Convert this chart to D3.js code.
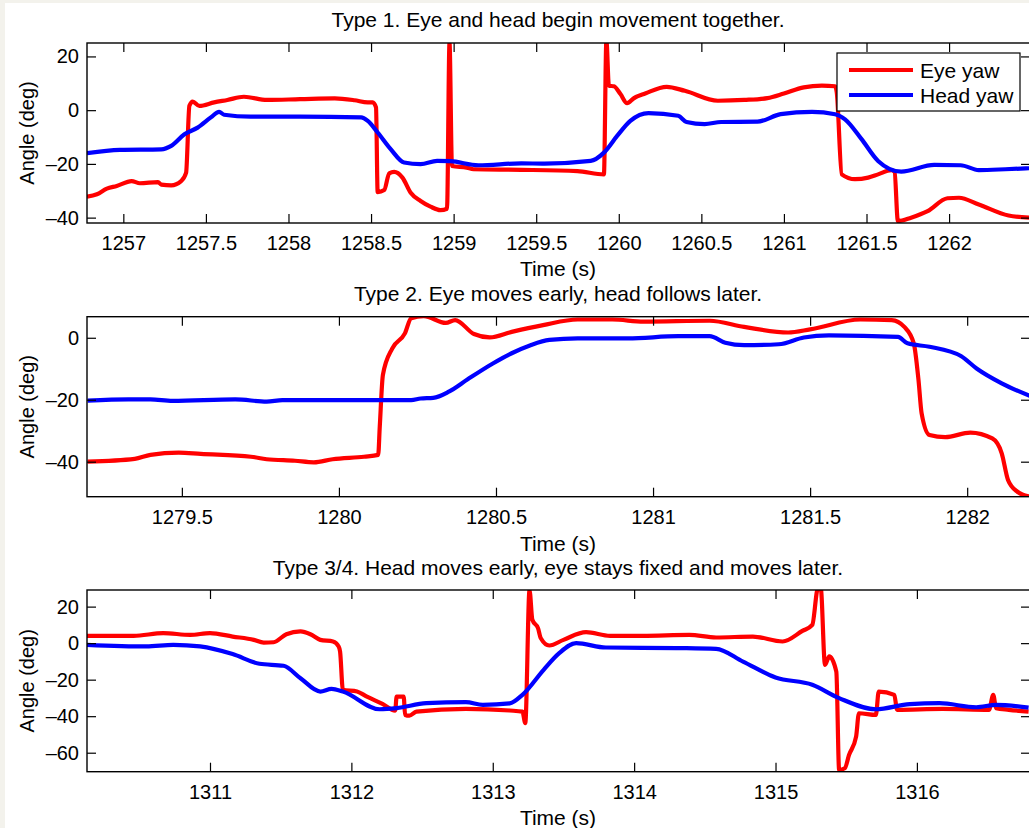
<!DOCTYPE html>
<html>
<head>
<meta charset="utf-8">
<script src="https://cdn.jsdelivr.net/npm/d3@7"></script>
<style>
body { margin: 0; background: #fff; }
svg text { font-family: "Liberation Sans", Arial, Helvetica, sans-serif; fill: #000; }
</style>
</head>
<body>
<div id="chartDiv"></div>
<script>
// panel titles
let titles = [
  "Type 1. Eye and head begin movement together.",
  "Type 2. Eye moves early, head follows later.",
  "Type 3/4. Head moves early, eye stays fixed and moves later."
];
let seriesNames = ["Eye yaw", "Head yaw"];

// ticks
let xTicks1 = [1257, 1257.5, 1258, 1258.5, 1259, 1259.5, 1260, 1260.5, 1261, 1261.5, 1262];
let yTicks1 = [-40, -20, 0, 20];
let xTicks2 = [1279.5, 1280, 1280.5, 1281, 1281.5, 1282];
let yTicks2 = [-40, -20, 0];
let xTicks3 = [1311, 1312, 1313, 1314, 1315, 1316];
let yTicks3 = [-60, -40, -20, 0, 20];

// data [time, angle]
let eye1 = [[1256.78,-32.2],[1256.84,-31.3],[1256.90,-29.2],[1256.96,-28.2],[1257.05,-26.4],[1257.10,-27.2],
  [1257.21,-26.8],[1257.23,-27.7],[1257.29,-28],[1257.35,-26.4],[1257.38,-23.3],[1257.40,1.6],[1257.42,3.2],
  [1257.46,1.6],[1257.55,2.9],[1257.63,3.8],[1257.73,5.0],[1257.87,3.8],[1258.07,4.1],[1258.28,4.4],[1258.40,3.7],
  [1258.48,2.9],[1258.51,2.9],[1258.53,1.0],[1258.54,-30.5],[1258.58,-29.7],[1258.61,-23.5],[1258.64,-23],
  [1258.69,-25.1],[1258.74,-30.7],[1258.80,-33.8],[1258.86,-35.9],[1258.92,-37.2],[1258.96,-36.7],[1258.975,25],
  [1258.99,-20.8],[1259.08,-21.4],[1259.12,-22],[1259.41,-22.2],[1259.75,-22.7],[1259.91,-23.9],[1259.925,26],
  [1259.94,9.1],[1259.97,8.9],[1260.01,6.0],[1260.05,2.6],[1260.09,4.4],[1260.16,6.2],[1260.29,8.7],[1260.40,7.2],
  [1260.60,3.5],[1260.76,3.8],[1260.90,4.5],[1261.00,6.2],[1261.12,8.5],[1261.23,9.1],[1261.31,8.9],[1261.32,6.6],
  [1261.35,-23.9],[1261.43,-25.7],[1261.51,-25.1],[1261.57,-23.9],[1261.65,-22.3],[1261.67,-23],[1261.69,-41.3],
  [1261.77,-40],[1261.87,-37.6],[1261.99,-32.8],[1262.06,-32.6],[1262.18,-35.1],[1262.36,-39.2],[1262.49,-40]];
let head1 = [[1256.78,-16.0],[1256.98,-14.8],[1257.23,-14.6],[1257.29,-13.3],[1257.37,-9.0],[1257.45,-6.5],
  [1257.53,-2.7],[1257.58,-0.6],[1257.61,-1.7],[1257.77,-2.4],[1258.07,-2.4],[1258.44,-2.7],[1258.48,-4.0],
  [1258.54,-8.3],[1258.62,-14.6],[1258.70,-19.5],[1258.80,-20.1],[1258.90,-18.9],[1258.98,-19],[1259.15,-20.5],
  [1259.41,-19.8],[1259.55,-19.9],[1259.83,-18.9],[1259.91,-15.8],[1259.99,-9.6],[1260.07,-4.0],[1260.18,-1.1],
  [1260.36,-2.1],[1260.41,-4.4],[1260.52,-5.2],[1260.62,-4.4],[1260.84,-4.3],[1260.98,-1.5],[1261.17,-0.6],
  [1261.31,-1.5],[1261.37,-3.4],[1261.47,-10.8],[1261.57,-18.9],[1261.71,-22.9],[1261.91,-20.4],[1262.07,-20.5],
  [1262.18,-22.3],[1262.34,-22],[1262.49,-21.6]];

let eye2 = [[1279.20,-40],[1279.35,-39.1],[1279.40,-37.8],[1279.49,-37.1],[1279.56,-37.5],[1279.72,-38.4],
  [1279.77,-39.2],[1279.86,-39.7],[1279.92,-40.2],[1279.98,-39.2],[1280.08,-38.4],[1280.125,-37.8],[1280.13,-28.7],
  [1280.14,-12.0],[1280.17,-3.4],[1280.21,1.4],[1280.23,6.3],[1280.27,7.0],[1280.34,4.8],[1280.37,5.7],
  [1280.43,1.2],[1280.48,0.1],[1280.55,1.9],[1280.65,4.1],[1280.76,5.9],[1280.87,5.9],[1280.97,5.2],
  [1281.18,5.5],[1281.29,3.5],[1281.43,1.7],[1281.50,2.7],[1281.66,5.9],[1281.76,5.7],[1281.80,3.5],
  [1281.83,-1.8],[1281.845,-13.6],[1281.855,-24.4],[1281.88,-31.4],[1281.93,-32.1],[1282.01,-30.6],
  [1282.08,-32.5],[1282.11,-37.3],[1282.13,-45.9],[1282.16,-49.7],[1282.20,-51.3]];
let head2 = [[1279.20,-20.3],[1279.33,-19.9],[1279.40,-19.9],[1279.47,-20.4],[1279.67,-19.9],[1279.77,-20.6],
  [1279.82,-20.1],[1279.98,-20.1],[1280.23,-20.1],[1280.26,-19.6],[1280.30,-19.4],[1280.35,-17.4],[1280.41,-13.4],
  [1280.49,-8.3],[1280.55,-5.0],[1280.61,-2.4],[1280.67,-0.7],[1280.76,-0.2],[1280.92,-0.2],[1281.08,0.5],
  [1281.18,0.5],[1281.23,-1.6],[1281.29,-2.4],[1281.40,-2.1],[1281.48,0.1],[1281.56,0.8],[1281.78,0.3],
  [1281.81,-1.8],[1281.88,-2.9],[1281.98,-5.9],[1282.03,-9.9],[1282.11,-14.7],[1282.20,-18.8]];

let eye3 = [[1310.13,4.0],[1310.46,4.0],[1310.67,5.5],[1310.86,4.5],[1311.00,5.5],[1311.16,3.6],[1311.31,1.8],
  [1311.38,0.3],[1311.45,0.5],[1311.54,4.9],[1311.64,6.4],[1311.71,4.9],[1311.78,1.8],[1311.87,0.9],
  [1311.91,-1.8],[1311.92,-4.6],[1311.94,-25.6],[1312.04,-26.5],[1312.11,-29.3],[1312.22,-33.3],[1312.31,-36.9],
  [1312.32,-29.3],[1312.37,-29.3],[1312.38,-39.3],[1312.41,-39.7],[1312.46,-37.5],[1312.81,-36],[1313.12,-36.9],
  [1313.21,-37.5],[1313.23,-43.8],[1313.26,29],[1313.28,12.8],[1313.32,8.2],[1313.34,2.7],[1313.40,-1.3],
  [1313.50,1.8],[1313.66,6.0],[1313.83,4.0],[1314.06,4.0],[1314.39,4.5],[1314.58,3.1],[1314.84,3.6],
  [1315.05,0.9],[1315.19,6.7],[1315.26,10.0],[1315.30,30],[1315.32,30],[1315.35,-11.9],[1315.38,-7.3],
  [1315.43,-15.6],[1315.45,-69.4],[1315.49,-68.5],[1315.52,-61.2],[1315.57,-51.2],[1315.59,-38.4],
  [1315.71,-39.3],[1315.73,-26.5],[1315.84,-28.3],[1315.86,-36.5],[1316.18,-36],[1316.51,-36.5],
  [1316.54,-28.3],[1316.56,-35.6],[1316.65,-36.5],[1316.79,-37.5]];
let head3 = [[1310.13,-0.9],[1310.55,-1.8],[1310.74,-0.9],[1310.93,-1.8],[1311.16,-6.0],[1311.35,-11.3],
  [1311.52,-12.4],[1311.64,-19.2],[1311.78,-26.5],[1311.86,-25],[1311.94,-26.5],[1312.20,-36.2],[1312.32,-35.6],
  [1312.53,-32.9],[1312.81,-32.3],[1312.93,-33.8],[1313.12,-33],[1313.21,-28.3],[1313.36,-14.6],[1313.47,-5.5],
  [1313.59,0],[1313.80,-2.4],[1314.30,-2.7],[1314.58,-3.1],[1314.77,-10.1],[1315.00,-18.8],[1315.26,-22.8],
  [1315.45,-30.1],[1315.71,-36.2],[1315.95,-33.4],[1316.16,-32.9],[1316.42,-35.1],[1316.56,-33.8],[1316.79,-35.3]];

let width = 1029, height = 828;
let body = d3.select("#chartDiv").append("svg").attr("width", width).attr("height", height);

// off-white page edge
body.append("rect").attr("x", 0).attr("y", 0).attr("width", width).attr("height", 3).style("fill", "#f3f2ec");
body.append("rect").attr("x", 0).attr("y", 0).attr("width", 5).attr("height", height).style("fill", "#f3f2ec");

let panels = [
  {title: titles[0], eye: eye1, head: head1, xd: [1256.78, 1262.49], yd: [-42, 25], xt: xTicks1, yt: yTicks1,
   top: 43, bottom: 223, titleY: 19, timeY: 268, legend: true},
  {title: titles[1], eye: eye2, head: head2, xd: [1279.198, 1282.2], yd: [-51.3, 6.8], xt: xTicks2, yt: yTicks2,
   top: 316.7, bottom: 496.7, titleY: 293, timeY: 543},
  {title: titles[2], eye: eye3, head: head3, xd: [1310.13, 1316.8], yd: [-70.4, 29.1], xt: xTicks3, yt: yTicks3,
   top: 590, bottom: 771.7, titleY: 567, timeY: 817}
];

let left = 87, right = 1030;
let fmt = v => (v < 0 ? "\u2013" + Math.abs(v) : "" + v);

panels.forEach((p, i) => {
  let scaleX = d3.scaleLinear().domain(p.xd).range([left, right]);
  let scaleY = d3.scaleLinear().domain(p.yd).range([p.bottom, p.top]);
  let g = body.append("g");

  g.append("clipPath").attr("id", "clip" + i).append("rect")
    .attr("x", left).attr("y", p.top).attr("width", right - left).attr("height", p.bottom - p.top);

  let line = d3.line().curve(d3.curveMonotoneX).x(d => scaleX(d[0])).y(d => scaleY(d[1]));
  let lines = g.append("g").attr("clip-path", "url(#clip" + i + ")");
  lines.append("path").datum(p.eye).attr("d", line)
    .style("fill", "none").style("stroke", "#ff0000").style("stroke-width", 4.2).style("stroke-linejoin", "round");
  lines.append("path").datum(p.head).attr("d", line)
    .style("fill", "none").style("stroke", "#0000ff").style("stroke-width", 4.2).style("stroke-linejoin", "round");

  // axes with inner ticks on all sides
  let tk = 9;
  g.append("g").attr("transform", "translate(0," + p.bottom + ")")
    .call(d3.axisBottom(scaleX).tickValues(p.xt).tickSizeInner(-tk).tickSizeOuter(0).tickPadding(13).tickFormat(d3.format("")));
  g.append("g").attr("transform", "translate(0," + p.top + ")")
    .call(d3.axisTop(scaleX).tickValues(p.xt).tickSizeInner(-tk).tickSizeOuter(0).tickFormat(""));
  g.append("g").attr("transform", "translate(" + left + ",0)")
    .call(d3.axisLeft(scaleY).tickValues(p.yt).tickSizeInner(-tk).tickSizeOuter(0).tickPadding(8).tickFormat(fmt));
  g.append("g").attr("transform", "translate(" + right + ",0)")
    .call(d3.axisRight(scaleY).tickValues(p.yt).tickSizeInner(-tk).tickSizeOuter(0).tickFormat(""));
  g.selectAll(".domain").remove();
  g.selectAll(".tick line").style("stroke", "#000").style("stroke-width", 1.2);
  g.selectAll(".tick text").style("font-size", "20px").style("font-family", "'Liberation Sans', Arial, sans-serif");

  g.append("rect").attr("x", left).attr("y", p.top).attr("width", right - left).attr("height", p.bottom - p.top)
    .style("fill", "none").style("stroke", "#000").style("stroke-width", 1.4);

  g.append("text").text(p.title).attr("x", (left + 1029) / 2).attr("y", p.titleY)
    .attr("text-anchor", "middle").attr("dominant-baseline", "central").style("font-size", "21px");
  g.append("text").text("Time (s)").attr("x", (left + 1029) / 2).attr("y", p.timeY)
    .attr("text-anchor", "middle").attr("dominant-baseline", "central").style("font-size", "21px");
  g.append("text").text("Angle (deg)")
    .attr("transform", "translate(27," + (p.top + p.bottom) / 2 + ") rotate(-90)")
    .attr("text-anchor", "middle").attr("dominant-baseline", "central").style("font-size", "20px");

  //legend
  if (p.legend) {
    let legend = g.append("g").attr("transform", "translate(837,53)");
    legend.append("rect").attr("x", 0).attr("y", 0).attr("width", 183).attr("height", 58)
      .style("fill", "#fff").style("stroke", "#000").style("stroke-width", 1.2);
    [["#ff0000", 17], ["#0000ff", 42]].forEach((c, j) => {
      legend.append("line").attr("x1", 12).attr("x2", 76).attr("y1", c[1]).attr("y2", c[1])
        .style("stroke", c[0]).style("stroke-width", 4.2);
      legend.append("text").text(seriesNames[j]).attr("x", 83).attr("y", c[1])
        .attr("dominant-baseline", "central").style("font-size", "21px");
    });
  }
});
</script>
</body>
</html>
